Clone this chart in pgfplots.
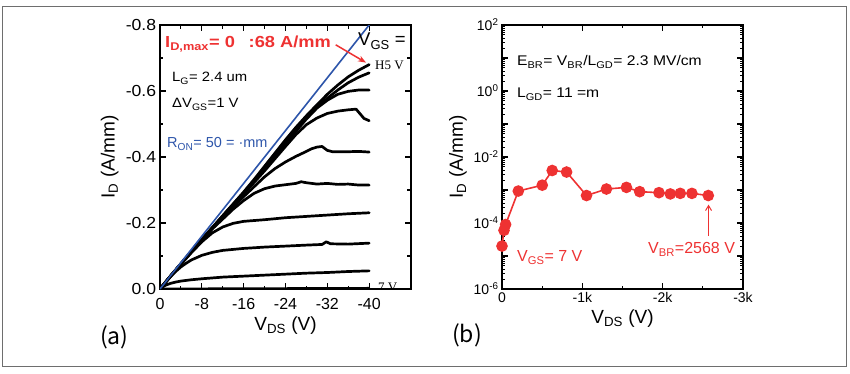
\documentclass[border=0pt]{standalone}
\usepackage{fontspec}
\setmainfont{Liberation Sans}
\newfontfamily\seriffont{Liberation Serif}
\newfontfamily\cjk{Noto Sans CJK SC}
\usepackage{graphicx}
\usepackage{pgfplots}
\pgfplotsset{compat=1.18}
\usetikzlibrary{arrows.meta}
\definecolor{myred}{RGB}{238,50,50}
\definecolor{myblue}{RGB}{45,85,170}
\definecolor{framegray}{RGB}{110,110,110}
\newcommand{\sub}[1]{\textsubscript{#1}}
\newcommand{\fs}[1]{\fontsize{#1}{#1}\selectfont}
\newcommand{\hs}[2]{\scalebox{#1}[1]{#2}}

\begin{document}
\begin{tikzpicture}[x=1pt,y=1pt]
\draw[framegray, line width=1pt] (2,7) rectangle (846,367);

% ---------------- (a) output characteristics ----------------
\begin{axis}[
  at={(160pt,85pt)}, anchor=south west, scale only axis,
  width=251pt, height=264pt,
  xmin=-48, xmax=0, x dir=reverse,
  ymin=-0.8, ymax=0, y dir=reverse,
  xtick={0,-8,-16,-24,-32,-40}, xticklabels={0,-8,-16,-24,-32,-40},
  ytick={0,-0.2,-0.4,-0.6,-0.8}, yticklabels={0.0,-0.2,-0.4,-0.6,-0.8},
  minor x tick num=1, minor y tick num=1,
  tick align=inside, major tick length=6pt, minor tick length=3.5pt,
  axis line style={line width=1.3pt},
  every tick/.style={line width=1.1pt, black},
  ticklabel style={font=\fs{16}},
  yticklabel style={xscale=1.1},
  xticklabel style={yshift=-6pt},
  xlabel={V\sub{DS} (V)}, ylabel={I\sub{D} (A/mm)},
  label style={font=\fs{19}},
  clip=true,
]
\addplot[black, line width=2.7pt, line cap=round, line join=round] coordinates {
(0,0) (-2,-0.039) (-4,-0.077) (-6,-0.114) (-8,-0.150) (-10,-0.186) (-12,-0.222) (-14,-0.258) (-16,-0.294) (-18,-0.332) (-20,-0.372) (-22,-0.412) (-24,-0.452) (-26,-0.490) (-28,-0.525) (-30,-0.558) (-32,-0.590) (-34,-0.618) (-36,-0.643) (-38,-0.663) (-40,-0.680)};
\addplot[black, line width=2.7pt, line cap=round, line join=round] coordinates {
(0,0) (-2,-0.039) (-4,-0.077) (-6,-0.114) (-8,-0.150) (-10,-0.186) (-12,-0.222) (-14,-0.257) (-16,-0.292) (-18,-0.330) (-20,-0.370) (-22,-0.410) (-24,-0.450) (-26,-0.487) (-28,-0.520) (-30,-0.550) (-32,-0.578) (-34,-0.603) (-36,-0.625) (-38,-0.642) (-40,-0.655)};
\addplot[black, line width=2.7pt, line cap=round, line join=round] coordinates {
(0,0) (-2,-0.039) (-4,-0.076) (-6,-0.113) (-8,-0.149) (-10,-0.185) (-12,-0.220) (-14,-0.255) (-16,-0.290) (-18,-0.327) (-20,-0.366) (-22,-0.404) (-24,-0.442) (-26,-0.478) (-28,-0.515) (-30,-0.548) (-32,-0.572) (-34,-0.590) (-36,-0.599) (-38,-0.603) (-40,-0.603)};
\addplot[black, line width=2.7pt, line cap=round, line join=round] coordinates {
(0,0) (-2,-0.039) (-4,-0.076) (-6,-0.113) (-8,-0.149) (-10,-0.184) (-12,-0.219) (-14,-0.254) (-16,-0.288) (-18,-0.323) (-20,-0.358) (-22,-0.395) (-24,-0.432) (-26,-0.468) (-28,-0.498) (-30,-0.518) (-32,-0.532) (-34,-0.539) (-36,-0.543) (-37.5,-0.545) (-38.2,-0.532) (-39,-0.517) (-40,-0.510)};
\addplot[black, line width=2.7pt, line cap=round, line join=round] coordinates {
(0,0) (-2,-0.039) (-4,-0.076) (-6,-0.113) (-8,-0.149) (-10,-0.184) (-12,-0.217) (-14,-0.250) (-16,-0.280) (-18,-0.310) (-20,-0.340) (-22,-0.365) (-24,-0.385) (-26,-0.402) (-28,-0.417) (-29,-0.425) (-30,-0.430) (-31,-0.432) (-32,-0.420) (-33,-0.416) (-36,-0.416) (-38,-0.417) (-40,-0.415)};
\addplot[black, line width=2.7pt, line cap=round, line join=round] coordinates {
(0,0) (-2,-0.039) (-4,-0.076) (-6,-0.113) (-8,-0.148) (-10,-0.182) (-12,-0.212) (-14,-0.242) (-16,-0.268) (-18,-0.290) (-20,-0.304) (-22,-0.312) (-24,-0.316) (-26,-0.320) (-27,-0.325) (-28,-0.322) (-30,-0.318) (-32,-0.320) (-34,-0.317) (-36,-0.318) (-38,-0.315) (-40,-0.315)};
\addplot[black, line width=2.7pt, line cap=round, line join=round] coordinates {
(0,0) (-2,-0.038) (-4,-0.075) (-6,-0.110) (-8,-0.143) (-10,-0.170) (-12,-0.188) (-14,-0.199) (-16,-0.205) (-20,-0.210) (-24,-0.216) (-28,-0.220) (-32,-0.224) (-36,-0.228) (-40,-0.231)};
\addplot[black, line width=2.7pt, line cap=round, line join=round] coordinates {
(0,0) (-1,-0.019) (-2,-0.037) (-3,-0.053) (-4,-0.067) (-5,-0.078) (-6,-0.088) (-8,-0.102) (-10,-0.111) (-12,-0.117) (-14,-0.120) (-16,-0.123) (-20,-0.127) (-24,-0.130) (-28,-0.133) (-31,-0.135) (-31.8,-0.143) (-32.6,-0.137) (-36,-0.136) (-40,-0.139)};
\addplot[black, line width=2.7pt, line cap=round, line join=round] coordinates {
(0,0) (-0.5,-0.006) (-1,-0.011) (-2,-0.017) (-3,-0.021) (-4,-0.024) (-6,-0.028) (-8,-0.031) (-12,-0.036) (-16,-0.039) (-20,-0.042) (-24,-0.045) (-28,-0.048) (-32,-0.050) (-36,-0.053) (-40,-0.055)};
\addplot[black, line width=2.7pt, line cap=round, line join=round] coordinates {
(0,0) (-20,-0.001) (-40,-0.002)};
\addplot[myblue, line width=1.6pt] coordinates {(0,0) (-42,-0.84)};
\draw[myred, line width=1.5pt, -{Stealth[length=8pt,width=6pt]}] (axis cs:-33.6,-0.740) -- (axis cs:-39.4,-0.686);
\end{axis}

% ---------------- (b) breakdown ----------------
\begin{axis}[
  at={(502pt,85pt)}, anchor=south west, scale only axis,
  width=241pt, height=264pt,
  xmin=-3000, xmax=0, x dir=reverse,
  ymode=log, ymin=1e-6, ymax=1e2,
  xtick={0,-1000,-2000,-3000}, xticklabels={0,-1k,-2k,-3k},
  minor x tick num=1,
  ytick={1e-6,1e-5,1e-4,1e-3,1e-2,1e-1,1,1e1,1e2},
  yticklabels={10\textsuperscript{-6},,10\textsuperscript{-4},,10\textsuperscript{-2},,10\textsuperscript{0},,10\textsuperscript{2}},
  minor ytick={2e-6,3e-6,4e-6,5e-6,6e-6,7e-6,8e-6,9e-6,2e-5,3e-5,4e-5,5e-5,6e-5,7e-5,8e-5,9e-5,2e-4,3e-4,4e-4,5e-4,6e-4,7e-4,8e-4,9e-4,2e-3,3e-3,4e-3,5e-3,6e-3,7e-3,8e-3,9e-3,2e-2,3e-2,4e-2,5e-2,6e-2,7e-2,8e-2,9e-2,0.2,0.3,0.4,0.5,0.6,0.7,0.8,0.9,2,3,4,5,6,7,8,9,20,30,40,50,60,70,80,90},
  tick align=inside, major tick length=6pt, minor tick length=3pt,
  axis line style={line width=1.3pt},
  every tick/.style={line width=1.1pt, black},
  ticklabel style={font=\fs{14}},
  xlabel={V\sub{DS} (V)}, ylabel={I\sub{D} (A/mm)},
  label style={font=\fs{19}},
  clip=false,
]
\addplot[myred, line width=1.6pt, mark=*, mark size=5pt, mark options={fill=myred, draw=myred}] coordinates {
(0,2e-5) (-25,6e-5) (-45,9e-5) (-203,9.3e-4) (-501,1.4e-3) (-625,3.9e-3) (-804,3.5e-3) (-1052,6.8e-4) (-1300,1.07e-3) (-1549,1.2e-3) (-1714,8.9e-4) (-1954,8.3e-4) (-2095,7.6e-4) (-2219,7.9e-4) (-2364,7.9e-4) (-2568,6.8e-4)};
\draw[myred, line width=1pt, -{Straight Barb[length=5pt,width=6pt]}] (axis cs:-2571,4.1e-5) -- (axis cs:-2571,3.6e-4);
\end{axis}

% ---------------- annotations ----------------
\node[anchor=base west, inner sep=0, myred, font=\bfseries\fs{16}] at (165,326) {\hs{1.14}{I\sub{D,max}= 0\hspace{12pt}:68 A/mm}};
\node[anchor=base west, inner sep=0, font=\fs{18.5}] at (358,328) {V\sub{GS} =};
\node[anchor=base west, inner sep=0, font=\seriffont\fs{13}] at (375,304) {H5 V};
\begin{scope}
\clip (160,85) rectangle (411,349);
\node[anchor=base west, inner sep=0, font=\seriffont\fs{13}] at (378,82) {7 V};
\end{scope}
\node[anchor=base west, inner sep=0, font=\fs{13.5}] at (172,292) {\hs{1.1}{L\sub{G}= 2.4 um}};
\node[anchor=base west, inner sep=0, font=\fs{13.5}] at (172,266) {\hs{1.1}{ΔV\sub{GS}=1 V}};
\node[anchor=base west, inner sep=0, myblue, font=\fs{14.5}] at (167,226) {R\sub{ON}= 50 = ·mm};
\node[anchor=west, inner sep=0, font=\cjk\fs{23}] at (100,37) {(a)};

\node[anchor=base west, inner sep=0, font=\fs{14}] at (517,308) {\hs{1.12}{E\sub{BR}= V\sub{BR}/L\sub{GD}= 2.3 MV/cm}};
\node[anchor=base west, inner sep=0, font=\fs{14}] at (517,276) {\hs{1.12}{L\sub{GD}= 11 =m}};
\node[anchor=base west, inner sep=0, myred, font=\fs{16}] at (517,112) {V\sub{GS}= 7 V};
\node[anchor=base west, inner sep=0, myred, font=\fs{16}] at (648,120) {V\sub{BR}=2568 V};
\node[anchor=west, inner sep=0, font=\cjk\fs{23}] at (452,39) {(b)};

\pgfresetboundingbox
\useasboundingbox (0,0) rectangle (850,374);
\end{tikzpicture}
\end{document}
